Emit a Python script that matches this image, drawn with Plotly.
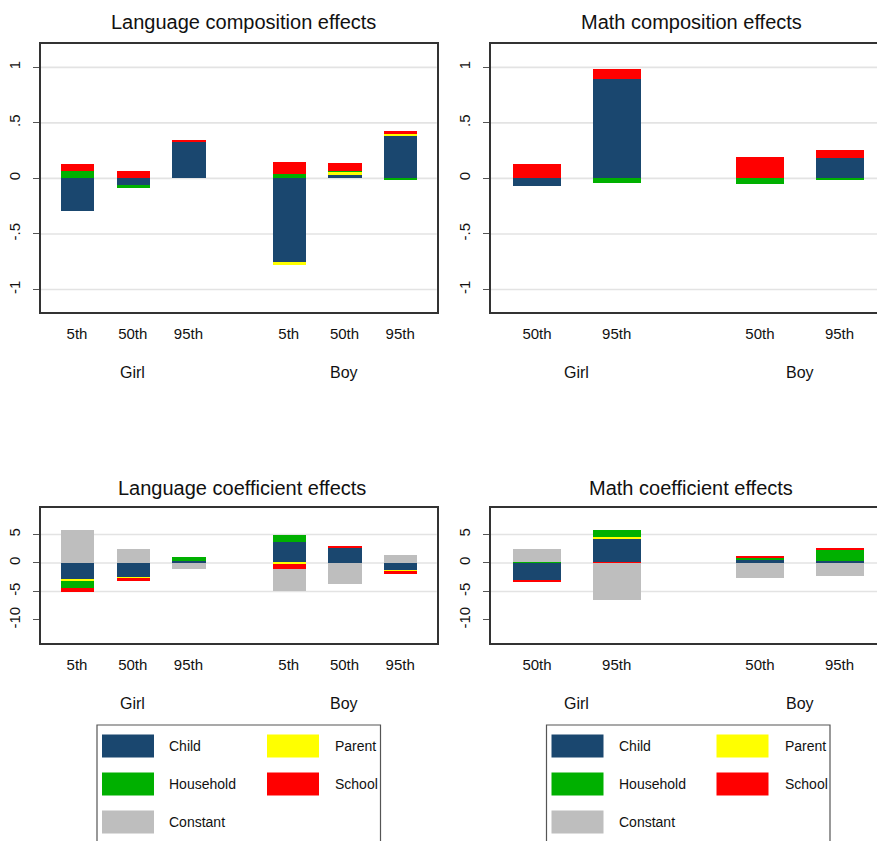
import plotly.graph_objects as go

W, H = 877, 841

# ---------------------------------------------------------------------------
# Decomposition results (Girl 5th/50th/95th, Boy 5th/50th/95th)
# ---------------------------------------------------------------------------
components = ["Child", "Parent", "Household", "School", "Constant"]

lang_pct = ["5th", "50th", "95th", "5th", "50th", "95th"]
math_pct = ["50th", "95th", "50th", "95th"]
lang_groups = [3, 3]   # bars per sex group
math_groups = [2, 2]
sex_labels = ["Girl", "Boy"]

# Language composition effects
lang_comp_child = [-0.29, -0.06, 0.327, -0.75, 0.033, 0.39]
lang_comp_parent = [0.0, -0.003, 0.0, -0.03, 0.03, 0.013]
lang_comp_household = [0.07, -0.02, 0.0, 0.039, 0.003, -0.015]
lang_comp_school = [0.063, 0.066, 0.018, 0.107, 0.071, 0.02]

# Math composition effects
math_comp_child = [-0.066, 0.898, 0.0, 0.186]
math_comp_parent = [0.0, 0.0, 0.0, 0.0]
math_comp_household = [0.0, -0.04, -0.048, -0.016]
math_comp_school = [0.129, 0.09, 0.189, 0.066]

# Language coefficient effects
lang_coef_child = [-2.98, -2.63, 0.23, 3.6, 2.6, -1.4]
lang_coef_parent = [-0.29, -0.2, 0.0, -0.15, 0.0, -0.23]
lang_coef_household = [-1.23, 0.0, 0.76, 1.25, 0.1, 0.0]
lang_coef_school = [-0.64, -0.33, 0.0, -1.0, 0.17, -0.29]
lang_coef_constant = [5.73, 2.34, -1.12, -3.75, -3.68, 1.35]

# Math coefficient effects
math_coef_child = [-2.98, 4.33, 0.5, 0.3]
math_coef_parent = [0.0, 0.18, 0.0, 0.0]
math_coef_household = [0.12, 1.23, 0.3, 2.05]
math_coef_school = [-0.47, -0.06, 0.37, 0.3]
math_coef_constant = [2.34, -6.45, -2.63, -2.34]

comp_ticks = [-1, -0.5, 0, 0.5, 1]
comp_ticktext = ["-1", "-.5", "0", ".5", "1"]
comp_grid = [-1, -0.5, 0, 0.5, 1]
coef_ticks = [-10, -5, 0, 5]
coef_ticktext = ["-10", "-5", "0", "5"]
coef_grid = [-5, 0, 5]

# ---------------------------------------------------------------------------
# Styling
# ---------------------------------------------------------------------------
colors = {
    "Child": "#1a476f",
    "Parent": "#ffff00",
    "Household": "#00b000",
    "School": "#ff0000",
    "Constant": "#bebebe",
}
FONT = "Liberation Sans, Arial, Helvetica, sans-serif"
TXT = "#111111"
AXIS_COLOR = "#333333"
GRID_COLOR = "#e3e3e3"
BAR_WIDTH = 0.6
TITLE_SIZE = 20
LABEL_SIZE = 15
LEGEND_SIZE = 14


def px_x(x):
    return x / W


def px_y(y):
    return 1 - y / H


def positions(groups, group_gap):
    """Bar positions: consecutive bars one unit apart, extra gap between groups."""
    out, start = [], 0.0
    for n in groups:
        out += [start + i for i in range(n)]
        start += n - 1 + group_gap
    return out


x_lang = positions(lang_groups, 1.8)
x_math = positions(math_groups, 1.8)

panels = [
    dict(title="Language composition effects", ax="", x=x_lang, pct=lang_pct,
         groups=lang_groups,
         data=[lang_comp_child, lang_comp_parent, lang_comp_household, lang_comp_school, None],
         xdom=(40.5, 436.7), ydom=(44, 311.7), xr=(-0.655, 6.455), yr=(-1.2, 1.21),
         ticks=comp_ticks, ticktext=comp_ticktext, grid=comp_grid,
         title_xy=(243, 22), right_line=True),
    dict(title="Math composition effects", ax="2", x=x_math, pct=math_pct,
         groups=math_groups,
         data=[math_comp_child, math_comp_parent, math_comp_household, math_comp_school, None],
         xdom=(490.7, 877), ydom=(44, 311.7), xr=(-0.582, 4.271), yr=(-1.2, 1.21),
         ticks=comp_ticks, ticktext=comp_ticktext, grid=comp_grid,
         title_xy=(691, 22), right_line=False),
    dict(title="Language coefficient effects", ax="3", x=x_lang, pct=lang_pct,
         groups=lang_groups,
         data=[lang_coef_child, lang_coef_parent, lang_coef_household, lang_coef_school,
               lang_coef_constant],
         xdom=(40.5, 436.7), ydom=(508.3, 642.7), xr=(-0.655, 6.455), yr=(-14.0, 9.6),
         ticks=coef_ticks, ticktext=coef_ticktext, grid=coef_grid,
         title_xy=(242, 488), right_line=True),
    dict(title="Math coefficient effects", ax="4", x=x_math, pct=math_pct,
         groups=math_groups,
         data=[math_coef_child, math_coef_parent, math_coef_household, math_coef_school,
               math_coef_constant],
         xdom=(490.7, 877), ydom=(508.3, 642.7), xr=(-0.582, 4.271), yr=(-14.0, 9.6),
         ticks=coef_ticks, ticktext=coef_ticktext, grid=coef_grid,
         title_xy=(691, 488), right_line=False),
]

fig = go.Figure()
shapes, annotations = [], []

for p in panels:
    xa, ya = "x" + p["ax"], "y" + p["ax"]
    for name, vals in zip(components, p["data"]):
        if vals is None:
            continue
        fig.add_trace(go.Bar(
            x=p["x"], y=vals, name=name, xaxis=xa, yaxis=ya, width=BAR_WIDTH,
            marker=dict(color=colors[name], line=dict(width=0)),
            showlegend=False, hoverinfo="name+y",
        ))

    key = p["ax"]
    fig.update_layout(**{
        "xaxis" + key: dict(
            domain=[px_x(p["xdom"][0]), px_x(p["xdom"][1])],
            range=list(p["xr"]), anchor=ya,
            tickmode="array", tickvals=p["x"], ticktext=p["pct"],
            ticks="outside", ticklen=8, tickcolor="rgba(0,0,0,0)",
            showline=True, mirror=True, linecolor=AXIS_COLOR, linewidth=1.5,
            showgrid=False, zeroline=False, fixedrange=True,
            tickfont=dict(family=FONT, size=LABEL_SIZE, color=TXT),
        ),
        "yaxis" + key: dict(
            domain=[px_y(p["ydom"][1]), px_y(p["ydom"][0])],
            range=list(p["yr"]), anchor=xa,
            tickmode="array", tickvals=p["ticks"], ticktext=p["ticktext"],
            tickangle=-90, ticks="outside", ticklen=6, tickcolor="#555555",
            tickwidth=1.2, ticklabelstandoff=7,
            showline=True, mirror=p["right_line"], linecolor=AXIS_COLOR, linewidth=1.5,
            showgrid=False, zeroline=False, fixedrange=True,
            tickfont=dict(family=FONT, size=LABEL_SIZE, color=TXT),
        ),
    })

    for g in p["grid"]:
        shapes.append(dict(type="line", xref=xa + " domain", yref=ya, x0=0, x1=1,
                           y0=g, y1=g, line=dict(color=GRID_COLOR, width=1.6),
                           layer="below"))

    annotations.append(dict(text=p["title"], xref="paper", yref="paper",
                            x=px_x(p["title_xy"][0]), y=px_y(p["title_xy"][1]),
                            xanchor="center", yanchor="middle", showarrow=False,
                            font=dict(family=FONT, size=TITLE_SIZE, color=TXT)))

    # sex group labels centred under each group of bars
    i = 0
    for label, n in zip(sex_labels, p["groups"]):
        xs = p["x"][i:i + n]
        annotations.append(dict(text=label, xref=xa, yref="paper",
                                x=sum(xs) / len(xs), y=px_y(p["ydom"][1]), yshift=-61,
                                xanchor="center", yanchor="middle", showarrow=False,
                                font=dict(family=FONT, size=LABEL_SIZE + 1, color=TXT)))
        i += n

# ---------------------------------------------------------------------------
# Legend boxes (one under each column of panels)
# ---------------------------------------------------------------------------
legend_rows = [["Child", "Parent"], ["Household", "School"], ["Constant"]]
row_centres = [746, 784, 822]
for dx in (0, 449.5):
    shapes.append(dict(type="rect", xref="paper", yref="paper",
                       x0=px_x(97 + dx), x1=px_x(380.5 + dx), y0=px_y(860), y1=px_y(725),
                       line=dict(color="#555555", width=1.2), fillcolor="white",
                       layer="below"))
    for row, yc in zip(legend_rows, row_centres):
        for col, name in enumerate(row):
            sx = (102 if col == 0 else 267) + dx
            tx = (167 if col == 0 else 333) + dx
            shapes.append(dict(type="rect", xref="paper", yref="paper",
                               x0=px_x(sx), x1=px_x(sx + 52),
                               y0=px_y(yc + 11.5), y1=px_y(yc - 11.5),
                               line=dict(width=0), fillcolor=colors[name]))
            annotations.append(dict(text=name, xref="paper", yref="paper",
                                    x=px_x(tx), y=px_y(yc), xanchor="left",
                                    yanchor="middle", showarrow=False,
                                    font=dict(family=FONT, size=LEGEND_SIZE, color=TXT)))

fig.update_layout(
    width=W, height=H, autosize=False,
    margin=dict(l=0, r=0, t=0, b=0),
    paper_bgcolor="white", plot_bgcolor="white",
    barmode="relative", bargap=0,
    shapes=shapes, annotations=annotations,
    font=dict(family=FONT, color=TXT),
)

fig.write_html("out.html", config={"displayModeBar": False})
